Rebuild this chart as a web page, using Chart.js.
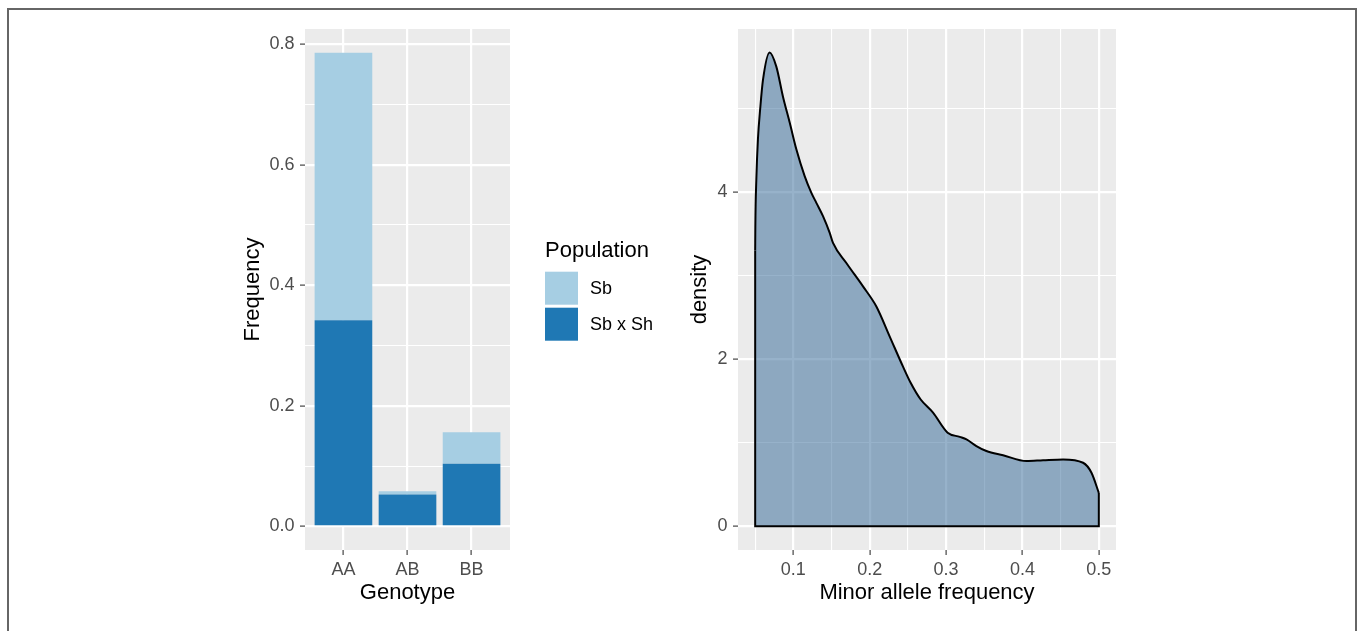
<!DOCTYPE html>
<html>
<head>
<meta charset="utf-8">
<script src="https://cdn.jsdelivr.net/npm/chart.js@4.4.1/dist/chart.umd.min.js"></script>
<style>
  html, body { margin: 0; padding: 0; background: #ffffff; width: 1360px; height: 631px; overflow: hidden; }
  #frame { position: absolute; left: 7px; top: 8px; width: 1350px; height: 640px; border: 2px solid #666666; border-bottom: none; box-sizing: border-box; }
  #genoBox { position: absolute; left: 0; top: 0; }
  #mafBox { position: absolute; left: 670px; top: 0; }
</style>
</head>
<body>
<div id="frame"></div>
<div id="genoBox"><canvas id="geno" width="680" height="631"></canvas></div>
<div id="mafBox"><canvas id="maf" width="690" height="631"></canvas></div>
<script>
// Genotype frequencies per population (stacked bars)
const genotypes = ['AA', 'AB', 'BB'];
const sbFreq = [0.444, 0.005, 0.052];
const sbShFreq = [0.342, 0.053, 0.104];
const freqTicks = [0, 0.1, 0.2, 0.3, 0.4, 0.5, 0.6, 0.7, 0.8];
const freqMajor = [0, 0.2, 0.4, 0.6, 0.8];

// Density of minor allele frequency
const mafX = [0.050, 0.0502, 0.0515, 0.0536, 0.0568, 0.0602, 0.0689, 0.0777, 0.0864, 0.0952,
              0.1039, 0.1148, 0.1236, 0.1301, 0.1388, 0.1476, 0.1519, 0.1694, 0.1912, 0.2087,
              0.2262, 0.2436, 0.2534, 0.2665, 0.2829, 0.3020, 0.3179, 0.3267, 0.3397, 0.3528,
              0.3746, 0.4053, 0.4270, 0.4532, 0.4794, 0.4904, 0.500];
const mafDensity = [3.30, 3.58, 4.15, 4.63, 5.02, 5.34, 5.67, 5.50, 5.14, 4.83,
                    4.51, 4.19, 3.99, 3.87, 3.71, 3.51, 3.39, 3.15, 2.87, 2.63,
                    2.27, 1.91, 1.72, 1.52, 1.36, 1.12, 1.07, 1.04, 0.96, 0.90,
                    0.85, 0.78, 0.79, 0.80, 0.76, 0.64, 0.40];
const mafTicks = [0.05, 0.1, 0.15, 0.2, 0.25, 0.3, 0.35, 0.4, 0.45, 0.5];
const mafMajor = [0.1, 0.2, 0.3, 0.4, 0.5];
const densityTicks = [0, 1, 2, 3, 4, 5];
const densityMajor = [0, 2, 4];

const FONT = '"Liberation Sans", Arial, Helvetica, sans-serif';
const PANEL_BG = '#EBEBEB';
const TICK_FONT = { family: FONT, size: 18 };
const TITLE_FONT = { family: FONT, size: 22 };

// grey panel behind the grid, ggplot style
const panelBackground = {
  id: 'panelBackground',
  beforeDraw(chart) {
    const { ctx, chartArea: a } = chart;
    ctx.save();
    ctx.fillStyle = PANEL_BG;
    ctx.fillRect(a.left, a.top, a.right - a.left, a.bottom - a.top);
    ctx.restore();
  }
};

// fill legend to the right of the panel, vertically centred on it
const fillLegend = {
  id: 'fillLegend',
  afterDraw(chart, args, o) {
    const { ctx, chartArea: a } = chart;
    const mid = (a.top + a.bottom) / 2;
    const x = a.right + o.gap;
    const items = chart.data.datasets.map(d => ({ label: d.label, color: d.backgroundColor })).reverse();
    ctx.save();
    ctx.fillStyle = '#000000';
    ctx.font = `${TITLE_FONT.size}px ${FONT}`;
    ctx.textAlign = 'left';
    ctx.textBaseline = 'alphabetic';
    ctx.fillText(o.title, x, mid + o.titleBaseline);
    ctx.font = `${o.labelSize}px ${FONT}`;
    ctx.textBaseline = 'middle';
    items.forEach((it, i) => {
      const y = mid + o.keysTop + i * (o.key + o.keyGap);
      ctx.fillStyle = it.color;
      ctx.fillRect(x, y, o.key, o.key);
      ctx.fillStyle = '#000000';
      ctx.fillText(it.label, x + o.key + o.textGap, y + o.key / 2 + 1);
    });
    ctx.restore();
  }
};

// linear axis with white major/minor grid, tick marks only on majors
function gridAxis(values, major, fmt, extra) {
  const isMajor = v => major.some(m => Math.abs(m - v) < 1e-9);
  return Object.assign({
    type: 'linear',
    bounds: 'data',
    offset: false,
    afterBuildTicks: s => { s.ticks = values.map(v => ({ value: v })); },
    grid: {
      offset: false,
      color: '#FFFFFF',
      lineWidth: c => (c.tick && isMajor(c.tick.value)) ? 2.2 : 1.1,
      drawTicks: true,
      tickLength: 5,
      tickWidth: 1.1,
      tickColor: c => (c.tick && isMajor(c.tick.value)) ? '#333333' : 'rgba(0,0,0,0)'
    },
    border: { display: false },
    ticks: {
      autoSkip: false, maxRotation: 0, minRotation: 0, padding: 4,
      color: '#4D4D4D', font: TICK_FONT,
      callback: v => isMajor(v) ? fmt(v) : ''
    }
  }, extra);
}

function axisTitle(text) {
  return { display: true, text: text, color: '#000000', font: TITLE_FONT, padding: 0 };
}

// ---- left: stacked genotype bars ----
const catPos = genotypes.map((g, i) => i + 1);
new Chart(document.getElementById('geno'), {
  type: 'bar',
  data: {
    datasets: [
      { label: 'Sb x Sh', data: catPos.map((x, i) => ({ x: x, y: sbShFreq[i] })),
        backgroundColor: '#1F78B4', borderWidth: 0 },
      { label: 'Sb', data: catPos.map((x, i) => ({ x: x, y: sbFreq[i] })),
        backgroundColor: '#A6CEE3', borderWidth: 0 }
    ]
  },
  options: {
    responsive: false,
    animation: false,
    events: [],
    layout: { padding: { left: 240, top: 29, right: 170, bottom: 24.8 } },
    datasets: { bar: { barPercentage: 0.9, categoryPercentage: 1.0 } },
    scales: {
      x: gridAxis(catPos, catPos, v => genotypes[Math.round(v) - 1], {
        min: 0.4, max: 3.6, stacked: true,
        afterFit: s => { s.height = 56.2; },
        title: axisTitle('Genotype')
      }),
      y: gridAxis(freqTicks, freqMajor, v => v.toFixed(1), {
        min: -0.0393, max: 0.8253, stacked: true,
        ticks: { autoSkip: false, padding: 5.5, color: '#4D4D4D', font: TICK_FONT,
                 callback: v => freqMajor.some(m => Math.abs(m - v) < 1e-9) ? v.toFixed(1) : '' },
        afterFit: s => { s.width = 65; },
        title: axisTitle('Frequency')
      })
    },
    plugins: {
      tooltip: { enabled: false },
      legend: { display: false },
      fillLegend: { title: 'Population', gap: 35, titleBaseline: -32.8, keysTop: -17.8,
                    key: 33, keyGap: 3, textGap: 12, labelSize: 18 }
    }
  },
  plugins: [panelBackground, fillLegend]
});

// ---- right: density of minor allele frequency ----
const curve = mafX.map((x, i) => ({ x: x, y: mafDensity[i] }));
const last = curve.length - 1;
const outline = [
  { x: mafX[0], y: mafDensity[0] }, { x: mafX[0], y: 0 },
  { x: mafX[last], y: 0 }, { x: mafX[last], y: mafDensity[last] }
];
new Chart(document.getElementById('maf'), {
  type: 'line',
  data: {
    datasets: [
      { data: outline, borderColor: '#000000', borderWidth: 2, tension: 0,
        fill: false, pointRadius: 0 },
      { data: curve, borderColor: '#000000', borderWidth: 2, cubicInterpolationMode: 'monotone',
        fill: 'origin', backgroundColor: 'rgba(47,101,149,0.5)', pointRadius: 0 }
    ]
  },
  options: {
    responsive: false,
    animation: false,
    events: [],
    layout: { padding: { left: 17, top: 29, right: 244, bottom: 24.8 } },
    scales: {
      x: gridAxis(mafTicks, mafMajor, v => v.toFixed(1), {
        min: 0.0275, max: 0.5225,
        afterFit: s => { s.height = 56.2; },
        title: axisTitle('Minor allele frequency')
      }),
      y: gridAxis(densityTicks, densityMajor, v => String(v), {
        min: -0.284, max: 5.95,
        ticks: { autoSkip: false, padding: 5.5, color: '#4D4D4D', font: TICK_FONT,
                 callback: v => densityMajor.includes(v) ? String(v) : '' },
        afterFit: s => { s.width = 51; },
        title: axisTitle('density')
      })
    },
    plugins: { tooltip: { enabled: false }, legend: { display: false } }
  },
  plugins: [panelBackground]
});
</script>
</body>
</html>
